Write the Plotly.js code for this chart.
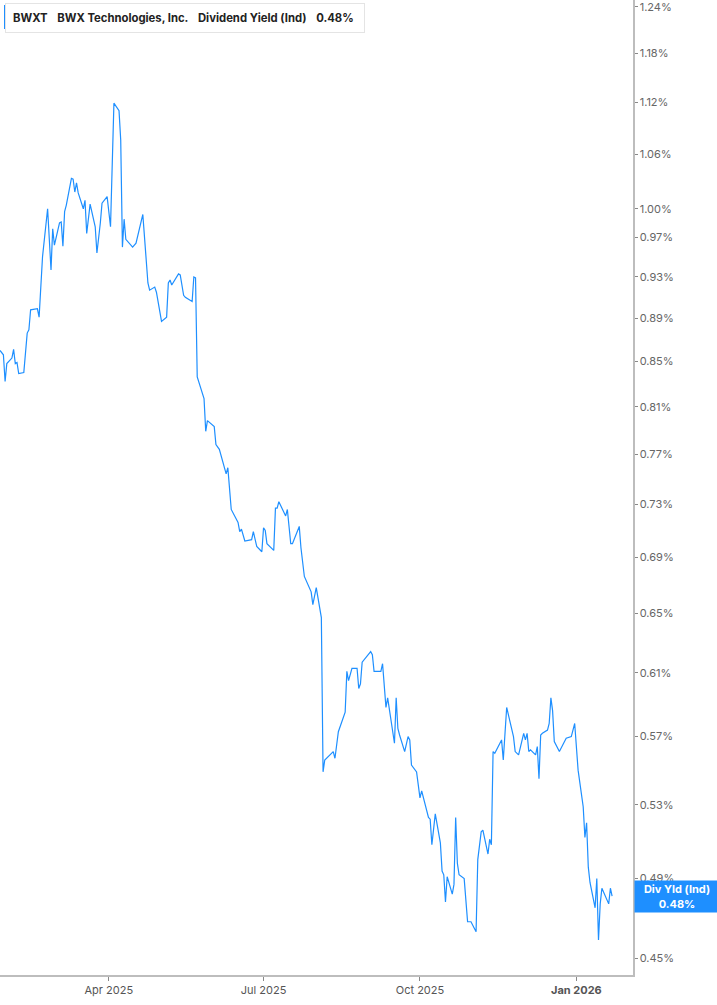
<!DOCTYPE html>
<html>
<head>
<meta charset="utf-8">
<script src="https://cdn.plot.ly/plotly-3.0.1.min.js"></script>
<style>
  html, body { margin: 0; padding: 0; background: #fff; }
  #chart { width: 717px; height: 1005px; }
</style>
</head>
<body>
<div id="chart"></div>
<script>
// BWXT dividend yield (indicated)
var dates = [
  '2025-01-27','2025-01-29','2025-01-30','2025-01-31','2025-02-03','2025-02-04','2025-02-05','2025-02-06','2025-02-07',
  '2025-02-10','2025-02-12','2025-02-13','2025-02-14','2025-02-18','2025-02-19','2025-02-21','2025-02-24','2025-02-26',
  '2025-02-27','2025-02-28','2025-03-03','2025-03-04','2025-03-05','2025-03-06','2025-03-07','2025-03-10','2025-03-11',
  '2025-03-12','2025-03-13','2025-03-14','2025-03-17','2025-03-18','2025-03-19','2025-03-21','2025-03-24','2025-03-25',
  '2025-03-27','2025-03-28','2025-03-31','2025-04-02','2025-04-04','2025-04-07','2025-04-08','2025-04-09','2025-04-10',
  '2025-04-11','2025-04-15','2025-04-17','2025-04-21','2025-04-22','2025-04-24','2025-04-25','2025-04-28','2025-04-29',
  '2025-05-02','2025-05-05','2025-05-06','2025-05-07','2025-05-08','2025-05-12','2025-05-13','2025-05-15','2025-05-16',
  '2025-05-20','2025-05-21','2025-05-22','2025-05-23','2025-05-27','2025-05-28','2025-05-29','2025-06-02','2025-06-03',
  '2025-06-05','2025-06-09','2025-06-10','2025-06-12','2025-06-16','2025-06-17','2025-06-18','2025-06-20','2025-06-23',
  '2025-06-24','2025-06-25','2025-06-27','2025-06-30','2025-07-01','2025-07-02','2025-07-03','2025-07-07','2025-07-08',
  '2025-07-09','2025-07-10','2025-07-14','2025-07-15','2025-07-17','2025-07-18','2025-07-22','2025-07-23','2025-07-25',
  '2025-07-29','2025-07-30','2025-08-01','2025-08-04','2025-08-05','2025-08-06','2025-08-11','2025-08-12','2025-08-14',
  '2025-08-18','2025-08-19','2025-08-20','2025-08-22','2025-08-25','2025-08-26','2025-08-27','2025-08-28','2025-09-02',
  '2025-09-03','2025-09-04','2025-09-08','2025-09-09','2025-09-11','2025-09-12','2025-09-16','2025-09-17','2025-09-18',
  '2025-09-19','2025-09-22','2025-09-24','2025-09-25','2025-09-26','2025-09-29','2025-10-01','2025-10-02','2025-10-06',
  '2025-10-07','2025-10-08','2025-10-10','2025-10-13','2025-10-14','2025-10-15','2025-10-16','2025-10-17','2025-10-20',
  '2025-10-21','2025-10-22','2025-10-23','2025-10-24','2025-10-27','2025-10-29','2025-10-31','2025-11-03','2025-11-04',
  '2025-11-06','2025-11-07','2025-11-10','2025-11-11','2025-11-12','2025-11-13','2025-11-14','2025-11-18','2025-11-19',
  '2025-11-21','2025-11-24','2025-11-25','2025-11-26','2025-11-28','2025-12-01','2025-12-02','2025-12-03','2025-12-04',
  '2025-12-05','2025-12-08','2025-12-09','2025-12-10','2025-12-11','2025-12-12','2025-12-15','2025-12-16','2025-12-17',
  '2025-12-18','2025-12-19','2025-12-22','2025-12-26','2025-12-29','2025-12-31','2026-01-02','2026-01-05','2026-01-06',
  '2026-01-07','2026-01-08','2026-01-09','2026-01-12','2026-01-13','2026-01-14','2026-01-15','2026-01-16','2026-01-20',
  '2026-01-21','2026-01-22'
];

var yieldPct = [
  0.860,0.856,0.832,0.848,0.853,0.861,0.848,0.849,0.839,
  0.840,0.876,0.879,0.898,0.899,0.891,0.950,1.000,0.937,
  0.979,0.962,0.985,0.986,0.961,0.997,1.004,1.033,1.032,
  1.018,1.028,1.017,1.000,1.009,0.974,1.005,0.981,0.954,
  0.985,1.006,1.013,0.981,1.119,1.110,1.076,0.960,0.989,
  0.968,0.960,0.964,0.994,0.967,0.924,0.917,0.920,0.915,
  0.887,0.891,0.924,0.927,0.922,0.933,0.932,0.912,0.910,
  0.906,0.930,0.929,0.836,0.817,0.789,0.798,0.793,0.778,
  0.774,0.754,0.759,0.726,0.716,0.709,0.711,0.702,0.703,
  0.703,0.709,0.698,0.694,0.712,0.710,0.700,0.695,0.727,
  0.727,0.732,0.721,0.726,0.700,0.700,0.713,0.697,0.676,
  0.665,0.656,0.668,0.647,0.549,0.556,0.561,0.557,0.573,
  0.585,0.611,0.605,0.613,0.613,0.600,0.603,0.617,0.624,
  0.622,0.611,0.611,0.616,0.588,0.594,0.566,0.594,0.575,
  0.571,0.561,0.570,0.568,0.553,0.549,0.534,0.538,0.523,
  0.522,0.508,0.525,0.509,0.494,0.492,0.478,0.491,0.482,
  0.487,0.523,0.498,0.492,0.490,0.468,0.468,0.463,0.500,
  0.515,0.516,0.503,0.511,0.508,0.561,0.560,0.568,0.556,
  0.588,0.574,0.570,0.561,0.559,0.572,0.568,0.572,0.561,
  0.562,0.559,0.564,0.545,0.571,0.572,0.574,0.578,0.594,
  0.586,0.567,0.561,0.569,0.570,0.578,0.550,0.529,0.512,
  0.520,0.496,0.488,0.475,0.490,0.459,0.477,0.485,0.477,
  0.485,0.481
];

var yTickVals = [0.45,0.49,0.53,0.57,0.61,0.65,0.69,0.73,0.77,0.81,0.85,0.89,0.93,0.97,1.00,1.06,1.12,1.18,1.24];
var yTickText = yTickVals.map(function(v){ return v.toFixed(2) + '%'; });

var xTickVals = ['2025-04-01','2025-07-01','2025-10-01','2026-01-01'];
var xTickText = ['Apr 2025','Jul 2025','Oct 2025','<b>Jan 2026</b>'];

var lineColor = '#1e8fff';
var lastVal = yieldPct[yieldPct.length - 1];
var gap = '\u00a0\u00a0\u00a0';

var trace = {
  x: dates,
  y: yieldPct,
  type: 'scatter',
  mode: 'lines',
  line: {color: lineColor, width: 1.2},
  hoverinfo: 'skip',
  showlegend: false
};

var layout = {
  width: 717,
  height: 1005,
  margin: {l: 0, r: 84, t: 0, b: 30},
  paper_bgcolor: '#fff',
  plot_bgcolor: '#fff',
  font: {family: 'Inter, "Open Sans", sans-serif', size: 11, color: '#5a5a5a'},
  xaxis: {
    type: 'date',
    range: ['2025-01-27', '2026-02-03 07:00'],
    tickvals: xTickVals,
    ticktext: xTickText,
    ticks: 'outside',
    ticklen: 4,
    tickcolor: '#888',
    showgrid: false,
    zeroline: false,
    showline: true,
    linecolor: '#bdbdbd',
    linewidth: 1.5,
    tickfont: {size: 11, color: '#555'}
  },
  yaxis: {
    type: 'log',
    side: 'right',
    range: [Math.log10(0.4422), Math.log10(1.249)],
    tickvals: yTickVals,
    ticktext: yTickText,
    ticks: 'outside',
    ticklen: 3,
    tickcolor: '#888',
    ticklabeloverflow: 'allow',
    showgrid: false,
    zeroline: false,
    showline: true,
    linecolor: '#bdbdbd',
    linewidth: 1.5,
    tickfont: {size: 11, color: '#666'}
  },
  shapes: [{
    type: 'rect',
    xref: 'paper', yref: 'paper',
    xsizemode: 'pixel', ysizemode: 'pixel',
    xanchor: 0, yanchor: 1,
    x0: 4, x1: 7, y0: -5, y1: -29,
    fillcolor: lineColor,
    line: {width: 0},
    layer: 'above'
  }],
  annotations: [
    {
      xref: 'paper', yref: 'paper',
      x: 0, y: 1,
      xanchor: 'left', yanchor: 'top',
      xshift: 5, yshift: -3,
      showarrow: false,
      align: 'left',
      text: '<b>BWXT</b>' + gap + '<b>BWX Technologies, Inc.</b>' + gap + '<b>Dividend Yield (Ind)</b>' + gap + '<b>0.48%</b>\u00a0',
      font: {size: 11.3, color: '#222'},
      bgcolor: '#fff',
      bordercolor: '#e4e4e4',
      borderwidth: 1,
      borderpad: 7
    },
    {
      xref: 'paper', yref: 'y',
      x: 1, y: Math.log10(lastVal),
      xanchor: 'left', yanchor: 'middle',
      xshift: 1,
      showarrow: false,
      align: 'center',
      width: 80,
      height: 27,
      text: '<b>Div Yld (Ind)</b><br><b>' + lastVal.toFixed(2) + '%</b>',
      font: {size: 11, color: '#fff'},
      bgcolor: lineColor,
      borderpad: 2
    }
  ]
};

Plotly.newPlot('chart', [trace], layout, {displayModeBar: false, staticPlot: true});
</script>
</body>
</html>
